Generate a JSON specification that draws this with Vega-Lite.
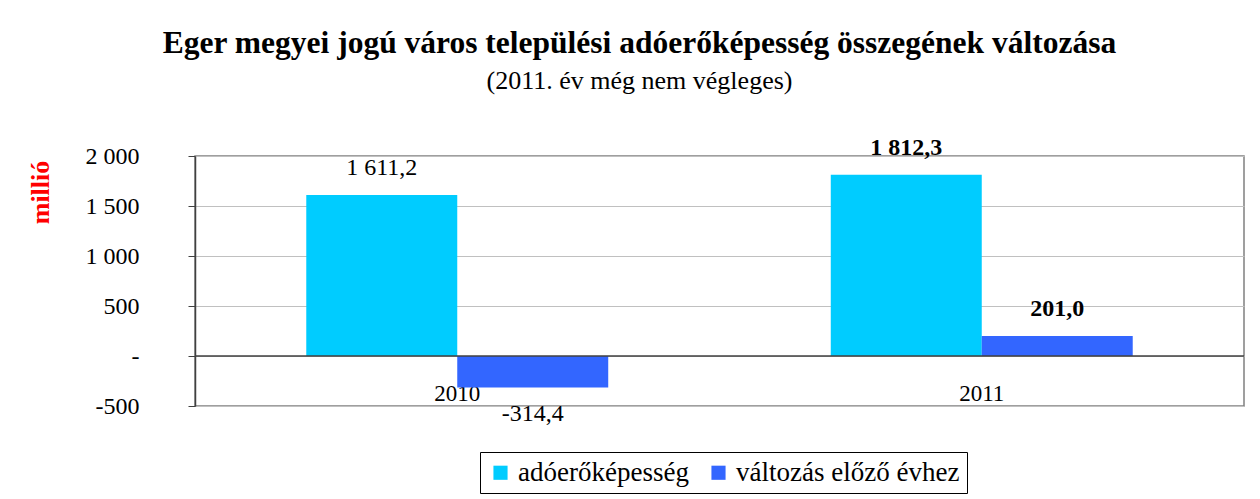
{
  "$schema": "https://vega.github.io/schema/vega-lite/v6.json",
  "width": 1049,
  "height": 250,
  "autosize": {"type": "none"},
  "padding": {"left": 195, "top": 156, "right": 16, "bottom": 93},
  "background": "white",
  "config": {
    "locale": {"number": {"decimal": ",", "thousands": " ", "grouping": [3], "currency": ["", ""], "minus": "-"}},
    "font": "Liberation Serif",
    "view": {"stroke": "#808080", "strokeWidth": 1.5}
  },
  "title": {
    "text": "Eger megyei jogú város települési adóerőképesség összegének változása",
    "subtitle": "(2011. év még nem végleges)",
    "anchor": "middle",
    "dx": -80,
    "offset": 42,
    "font": "Liberation Serif",
    "fontSize": 31.5,
    "fontWeight": "bold",
    "color": "#000000",
    "subtitleFont": "Liberation Serif",
    "subtitleFontSize": 26,
    "subtitleColor": "#000000",
    "subtitlePadding": 8
  },
  "data": {
    "values": [
      {"year": "2010", "series": "adóerőképesség", "value": 1611.2},
      {"year": "2010", "series": "változás előző évhez", "value": -314.4},
      {"year": "2011", "series": "adóerőképesség", "value": 1812.3},
      {"year": "2011", "series": "változás előző évhez", "value": 201.0}
    ]
  },
  "layer": [
    {
      "mark": {"type": "bar"},
      "encoding": {
        "x": {
          "field": "year", "type": "nominal",
          "scale": {"paddingInner": 0, "paddingOuter": 0},
          "axis": {"orient": "bottom", "title": null, "domain": false, "ticks": false, "grid": false, "labelPadding": -24, "labelFontSize": 23, "labelAngle": 0, "labelColor": "#000000", "labelFont": "Liberation Serif"}
        },
        "xOffset": {"field": "series", "type": "nominal", "scale": {"paddingOuter": 0.737, "paddingInner": 0}},
        "y": {
          "field": "value", "type": "quantitative",
          "scale": {"domain": [-500, 2000], "nice": false},
          "axis": {
            "title": "millió",
            "values": [-500, 0, 500, 1000, 1500, 2000],
            "format": ",.0f",
            "labelExpr": "datum.value == 0 ? '-' : datum.label",
            "grid": true, "gridColor": "#c0c0c0",
            "domainColor": "#404040", "domainWidth": 1.5,
            "tickColor": "#404040", "tickSize": 7,
            "labelPadding": 49, "labelFontSize": 24, "labelColor": "#000000", "labelFont": "Liberation Serif",
            "titleColor": "#FF0000", "titleFontWeight": "bold", "titleFontSize": 26, "titleFont": "Liberation Serif",
            "titleAngle": -90, "titleX": -155, "titleY": 36, "titleAlign": "center", "titleBaseline": "middle"
          }
        },
        "color": {
          "field": "series", "type": "nominal",
          "scale": {"domain": ["adóerőképesség", "változás előző évhez"], "range": ["#00CCFF", "#3366FF"]},
          "legend": {
            "orient": "none", "legendX": 285, "legendY": 296, "direction": "horizontal",
            "title": null, "strokeColor": "#000000", "fillColor": "#ffffff", "padding": 7,
            "symbolType": "square", "symbolSize": 200, "symbolStrokeWidth": 0,
            "labelFontSize": 27, "labelFont": "Liberation Serif", "labelColor": "#000000", "labelLimit": 400,
            "columnPadding": 16, "labelOffset": 4
          }
        }
      }
    },
    {
      "data": {"values": [{}]},
      "mark": {"type": "rule", "color": "#404040", "strokeWidth": 1.5},
      "encoding": {"y": {"datum": 0}}
    },
    {
      "transform": [{"filter": "datum.year == '2010' && datum.value > 0"}],
      "mark": {"type": "text", "dy": -27, "fontSize": 24, "font": "Liberation Serif", "color": "#000000", "baseline": "middle"},
      "encoding": {
        "x": {"field": "year", "type": "nominal"},
        "xOffset": {"field": "series", "type": "nominal"},
        "y": {"field": "value", "type": "quantitative"},
        "text": {"field": "value", "type": "quantitative", "format": ",.1f"}
      }
    },
    {
      "transform": [{"filter": "datum.value < 0"}],
      "mark": {"type": "text", "dy": 27, "fontSize": 24, "font": "Liberation Serif", "color": "#000000", "baseline": "middle"},
      "encoding": {
        "x": {"field": "year", "type": "nominal"},
        "xOffset": {"field": "series", "type": "nominal"},
        "y": {"field": "value", "type": "quantitative"},
        "text": {"field": "value", "type": "quantitative", "format": ",.1f"}
      }
    },
    {
      "transform": [{"filter": "datum.year == '2011'"}],
      "mark": {"type": "text", "dy": -27, "fontSize": 24, "fontWeight": "bold", "font": "Liberation Serif", "color": "#000000", "baseline": "middle"},
      "encoding": {
        "x": {"field": "year", "type": "nominal"},
        "xOffset": {"field": "series", "type": "nominal"},
        "y": {"field": "value", "type": "quantitative"},
        "text": {"field": "value", "type": "quantitative", "format": ",.1f"}
      }
    }
  ]
}
